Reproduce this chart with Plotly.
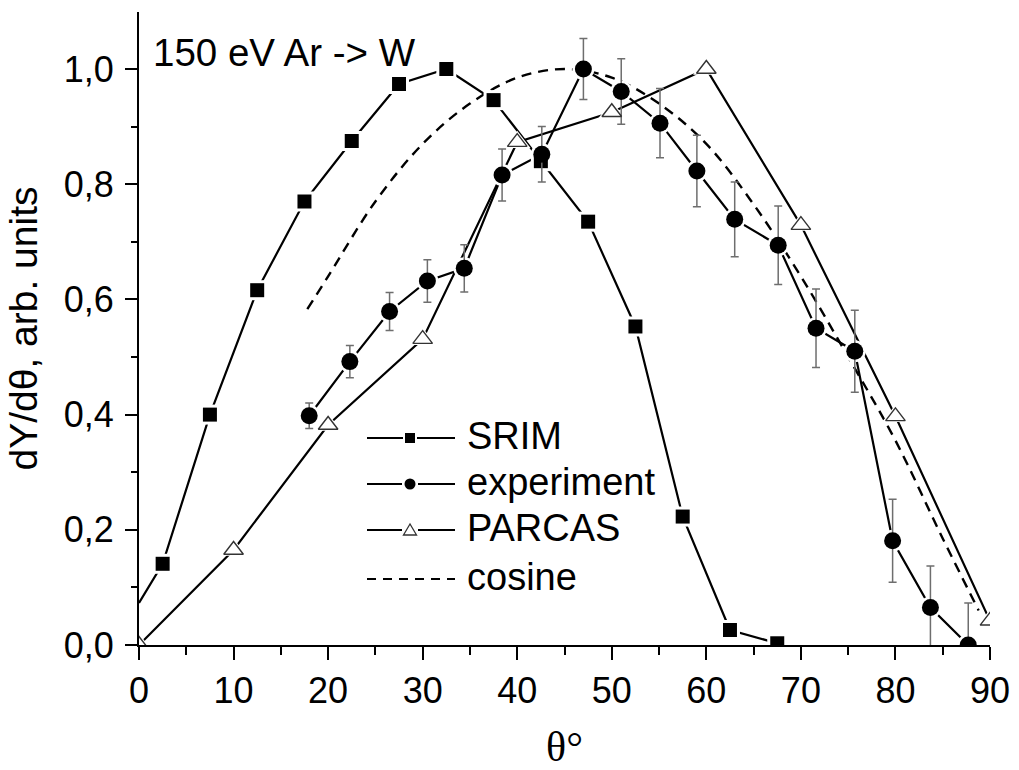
import plotly.graph_objects as go

# ---------------- data ----------------
srim_x = [0, 2.5, 7.5, 12.5, 17.5, 22.5, 27.5, 32.5, 37.5, 42.5, 47.5, 52.5, 57.5, 62.5, 67.5]
srim_y = [0.073, 0.141, 0.40, 0.616, 0.770, 0.875, 0.974, 1.0, 0.946, 0.840, 0.735, 0.553, 0.223, 0.026, 0.003]

exp_x = [18.0, 22.3, 26.5, 30.5, 34.4, 38.4, 42.6, 47.0, 51.0, 55.1, 59.0, 63.0, 67.6, 71.6, 75.7, 79.7, 83.7, 87.7]
exp_y = [0.398, 0.492, 0.579, 0.632, 0.654, 0.816, 0.852, 1.0, 0.961, 0.906, 0.823, 0.739, 0.694, 0.550, 0.510, 0.181, 0.065, 0.0]
exp_err = [0.022, 0.028, 0.033, 0.037, 0.041, 0.045, 0.048, 0.053, 0.057, 0.060, 0.062, 0.065, 0.068, 0.068, 0.071, 0.072, 0.072, 0.073]

parcas_x = [0, 10, 20, 30, 40, 50, 60, 70, 80, 90]
parcas_y = [0.0, 0.165, 0.382, 0.531, 0.873, 0.925, 1.0, 0.729, 0.397, 0.042]

cos_x = [17.8, 20, 25, 30, 35, 40, 45, 50, 55, 60, 65, 70, 75, 80, 85, 88.8]
cos_y = [0.583, 0.64, 0.77, 0.87, 0.94, 0.985, 1.0, 0.985, 0.94, 0.87, 0.765, 0.64, 0.50, 0.355, 0.185, 0.06]

x_ticks = [0, 10, 20, 30, 40, 50, 60, 70, 80, 90]
y_ticks = [0.0, 0.2, 0.4, 0.6, 0.8, 1.0]

legend_names = ["SRIM", "experiment", "PARCAS", "cosine"]
inset_title = "150 eV Ar -> W"

# ---------------- layout geometry ----------------
W, H = 1019, 770
ML, MR, MT, MB = 139, 29, 12, 125
PW, PH = W - ML - MR, H - MT - MB

def pxx(p):
    return (p - ML) / PW

def pxy(p):
    return (H - MB - p) / PH

FONT = "Liberation Sans, Arial, sans-serif"
LW = 2.2

fig = go.Figure()

# lines
fig.add_trace(go.Scatter(x=srim_x, y=srim_y, mode="lines", line=dict(color="black", width=LW), showlegend=False, hoverinfo="skip"))
fig.add_trace(go.Scatter(x=exp_x, y=exp_y, mode="lines", line=dict(color="black", width=LW), showlegend=False, hoverinfo="skip"))
fig.add_trace(go.Scatter(x=parcas_x, y=parcas_y, mode="lines", line=dict(color="black", width=LW), showlegend=False, hoverinfo="skip"))
fig.add_trace(go.Scatter(x=cos_x, y=cos_y, mode="lines", line=dict(color="black", width=2.4, dash="10px,7px", shape="spline"), showlegend=False, hoverinfo="skip"))

# white halos (gaps in lines around symbols)
fig.add_trace(go.Scatter(x=srim_x[1:], y=srim_y[1:], mode="markers", marker=dict(symbol="square", size=20, color="white"), showlegend=False, hoverinfo="skip"))
fig.add_trace(go.Scatter(x=exp_x, y=exp_y, mode="markers", marker=dict(symbol="circle", size=22, color="white"), showlegend=False, hoverinfo="skip"))
fig.add_trace(go.Scatter(x=parcas_x, y=parcas_y, mode="markers", marker=dict(symbol="triangle-up", size=23, color="white"), showlegend=False, hoverinfo="skip"))

# symbols
fig.add_trace(go.Scatter(x=srim_x[1:], y=srim_y[1:], mode="markers", name=legend_names[0],
                         marker=dict(symbol="square", size=14, color="black"), showlegend=False))
fig.add_trace(go.Scatter(x=exp_x, y=exp_y, mode="markers", name=legend_names[1],
                         marker=dict(symbol="circle", size=17, color="black"),
                         error_y=dict(type="data", array=exp_err, visible=True, color="#6e6e6e", thickness=1.5, width=4),
                         showlegend=False))
fig.add_trace(go.Scatter(x=parcas_x, y=parcas_y, mode="markers", name=legend_names[2],
                         marker=dict(symbol="triangle-up", size=17, color="white", line=dict(color="#333333", width=1.4)),
                         showlegend=False))

# ---------------- hand-drawn legend (paper coordinates) ----------------
shapes = []
annotations = []
row_y = [438, 484, 530, 579]
lx0, lx1, mx = 367, 455, 410
def seg(x0, x1, y, dash=None):
    shapes.append(dict(type="line", xref="paper", yref="paper", x0=pxx(x0), x1=pxx(x1), y0=pxy(y), y1=pxy(y),
                       line=dict(color="black", width=LW, dash=dash) if dash else dict(color="black", width=LW)))

# SRIM
y = row_y[0]
seg(lx0, 403, y); seg(417, lx1, y)
shapes.append(dict(type="rect", xref="paper", yref="paper", x0=pxx(mx - 5), x1=pxx(mx + 5), y0=pxy(y + 5), y1=pxy(y - 5),
                   fillcolor="black", line=dict(width=0)))
# experiment
y = row_y[1]
seg(lx0, 402, y); seg(418, lx1, y)
shapes.append(dict(type="circle", xref="paper", yref="paper", x0=pxx(mx - 5.5), x1=pxx(mx + 5.5), y0=pxy(y + 5.5), y1=pxy(y - 5.5),
                   fillcolor="black", line=dict(width=0)))
# PARCAS
y = row_y[2]
seg(lx0, 402, y); seg(418, lx1, y)
tri = "M {:.5f},{:.5f} L {:.5f},{:.5f} L {:.5f},{:.5f} Z".format(pxx(mx), pxy(y - 6), pxx(mx - 6.5), pxy(y + 5), pxx(mx + 6.5), pxy(y + 5))
shapes.append(dict(type="path", xref="paper", yref="paper", path=tri, fillcolor="white", line=dict(color="#333333", width=1.3)))
# cosine
y = row_y[3]
seg(lx0, lx1, y, dash="9px,7px")

for name, yy in zip(legend_names, row_y):
    annotations.append(dict(text=name, xref="paper", yref="paper", x=pxx(465), y=pxy(yy - 2), xanchor="left", yanchor="middle",
                            showarrow=False, font=dict(family=FONT, size=38, color="black")))

annotations.append(dict(text=inset_title, xref="paper", yref="paper", x=pxx(151), y=pxy(53), xanchor="left", yanchor="middle",
                        showarrow=False, font=dict(family=FONT, size=38.5, color="black")))

fig.update_layout(
    width=W, height=H,
    margin=dict(l=ML, r=MR, t=MT, b=MB, autoexpand=False),
    plot_bgcolor="white", paper_bgcolor="white",
    separators=",.",
    showlegend=False,
    shapes=shapes, annotations=annotations,
    font=dict(family=FONT, size=36, color="black"),
)
fig.update_xaxes(
    range=[0, 90], tickvals=x_ticks, ticks="outside", ticklen=13, tickwidth=2, tickcolor="black",
    showline=True, linecolor="black", linewidth=2.2, showgrid=False, zeroline=False,
    tickfont=dict(family=FONT, size=36),
    minor=dict(dtick=5, ticks="outside", ticklen=8, tickwidth=2, tickcolor="black", showgrid=False),
    title=dict(text="θ°", font=dict(family="Liberation Serif, DejaVu Serif, serif", size=42), standoff=32),
)
fig.update_yaxes(
    range=[0, 1.099], tickvals=y_ticks, tickformat=".1f", ticks="outside", ticklen=12, tickwidth=2, tickcolor="black",
    showline=True, linecolor="black", linewidth=2.2, showgrid=False, zeroline=False,
    tickfont=dict(family=FONT, size=36), ticklabelstandoff=4,
    minor=dict(dtick=0.1, ticks="outside", ticklen=6, tickwidth=2, tickcolor="black", showgrid=False),
    title=dict(text="dY/dθ, arb. units", font=dict(family=FONT, size=39), standoff=14),
)

fig.write_html("out.html")
